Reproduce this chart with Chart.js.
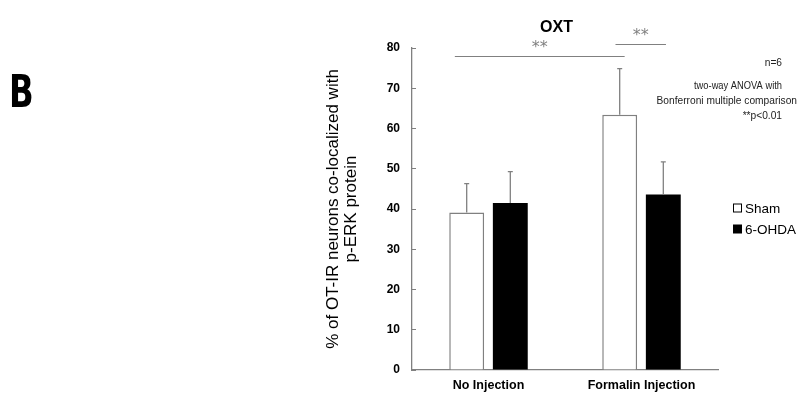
<!DOCTYPE html>
<html>
<head>
<meta charset="utf-8">
<script src="https://cdn.jsdelivr.net/npm/chart.js@4.4.1/dist/chart.umd.min.js"></script>
<style>
  html, body { margin: 0; padding: 0; background: #fff; }
  #contenedor { position: relative; width: 797px; height: 398px; }
</style>
</head>
<body>
<div id="contenedor"><canvas id="graficoOXT"></canvas></div>
<script>
const categorias = ["No Injection", "Formalin Injection"];
const nombresSeries = ["Sham", "6-OHDA"];
const mediaSham = [39.1, 63.4];
const errorSham = [7.2, 11.5];
const mediaOHDA = [41.5, 43.6];
const errorOHDA = [7.8, 8.1];
const ejeY = { min: 0, max: 80, paso: 10 };
// lineas de significancia en unidades de categoria y valor del eje Y
const significancia = [
  { desde: -0.22, hasta: 0.89, valor: 78, texto: "**" },
  { desde: 0.83, hasta: 1.16, valor: 81, texto: "**" }
];
const notas = ["n=6", "two-way ANOVA with", "Bonferroni multiple comparison", "**p<0.01"];
const titulo = "OXT";
const tituloEjeY = ["% of OT-IR neurons co-localized with", "p-ERK protein"];
const letraPanel = "B";

const GRIS = "#808080";
const FUENTE = "'Liberation Sans', Arial, sans-serif";

Chart.defaults.font.family = FUENTE;
Chart.defaults.color = "#000";

const barrasError = {
  id: "barrasError",
  afterDatasetsDraw(chart) {
    const ctx = chart.ctx;
    const y = chart.scales.y;
    const errores = [errorSham, errorOHDA];
    const medias = [mediaSham, mediaOHDA];
    ctx.save();
    ctx.strokeStyle = GRIS;
    ctx.lineWidth = 1.3;
    chart.data.datasets.forEach((ds, i) => {
      const meta = chart.getDatasetMeta(i);
      meta.data.forEach((barra, j) => {
        const arriba = y.getPixelForValue(medias[i][j] + errores[i][j]);
        ctx.beginPath();
        ctx.moveTo(barra.x, barra.y);
        ctx.lineTo(barra.x, arriba);
        ctx.moveTo(barra.x - 2.5, arriba);
        ctx.lineTo(barra.x + 2.5, arriba);
        ctx.stroke();
      });
    });
    ctx.restore();
  }
};

const extras = {
  id: "extras",
  afterDraw(chart) {
    const ctx = chart.ctx;
    const x = chart.scales.x;
    const y = chart.scales.y;
    const area = chart.chartArea;
    const x0 = x.getPixelForValue(0);
    const ancho = x.getPixelForValue(1) - x0;
    ctx.save();

    // significancia
    ctx.strokeStyle = GRIS;
    ctx.lineWidth = 1;
    ctx.fillStyle = GRIS;
    ctx.font = "16px 'DejaVu Sans'";
    ctx.textAlign = "center";
    ctx.textBaseline = "middle";
    significancia.forEach(s => {
      const xa = x0 + s.desde * ancho;
      const xb = x0 + s.hasta * ancho;
      const yy = Math.round(y.getPixelForValue(s.valor)) + 0.5;
      ctx.beginPath();
      ctx.moveTo(xa, yy);
      ctx.lineTo(xb, yy);
      ctx.stroke();
      ctx.fillText(s.texto, (xa + xb) / 2, yy - 9);
    });

    // titulo
    ctx.fillStyle = "#000";
    ctx.font = "bold 16px " + FUENTE;
    ctx.textAlign = "center";
    ctx.fillText(titulo, (area.left + area.right) / 2 - 8.5, 28);

    // notas
    ctx.font = "10.2px " + FUENTE;
    ctx.fillStyle = "#222";
    ctx.textAlign = "right";
    ctx.fillText(notas[0], 782, 63);
    ctx.fillText(notas[1], 782, 86, 88);
    ctx.fillText(notas[2], 797, 101);
    ctx.fillText(notas[3], 782, 116);

    // leyenda
    ctx.font = "13.5px " + FUENTE;
    ctx.textAlign = "left";
    chart.data.datasets.forEach((ds, i) => {
      const yc = 208 + i * 21;
      ctx.fillStyle = ds.backgroundColor;
      ctx.fillRect(733.5, yc - 4, 8, 8);
      ctx.strokeStyle = "#000";
      ctx.lineWidth = 1;
      ctx.strokeRect(733.5, yc - 4, 8, 8);
      ctx.fillStyle = "#000";
      ctx.fillText(ds.label, 745, yc + 1);
    });

    // letra del panel
    ctx.font = "bold 45px 'DejaVu Sans'";
    ctx.textBaseline = "alphabetic";
    ctx.translate(9, 107);
    ctx.scale(0.72, 1);
    ctx.fillText(letraPanel, 0, 0);

    ctx.restore();
  }
};

const grafico = new Chart(document.getElementById("graficoOXT"), {
  type: "bar",
  data: {
    labels: categorias,
    datasets: [
      {
        label: nombresSeries[0],
        data: mediaSham,
        backgroundColor: "#ffffff",
        borderColor: GRIS,
        borderWidth: 1.5
      },
      {
        label: nombresSeries[1],
        data: mediaOHDA,
        backgroundColor: "#000000",
        borderColor: "#000000",
        borderWidth: 0
      }
    ]
  },
  options: {
    responsive: true,
    maintainAspectRatio: false,
    animation: false,
    datasets: {
      bar: { categoryPercentage: 0.57, barPercentage: 0.8 }
    },
    layout: {
      padding: { left: 315, top: 48, right: 79, bottom: 0 }
    },
    plugins: {
      legend: { display: false },
      title: { display: false },
      tooltip: { enabled: false }
    },
    scales: {
      x: {
        afterFit(escala) { escala.height = 28; },
        grid: { display: true, drawOnChartArea: false, drawTicks: false },
        border: { display: true, color: GRIS, width: 1.3 },
        ticks: {
          padding: 8,
          color: "#000",
          font: { size: 12.5, weight: "bold" }
        }
      },
      y: {
        min: ejeY.min,
        max: ejeY.max,
        afterFit(escala) { escala.width = 97; },
        grid: { drawOnChartArea: false, tickLength: -4, color: GRIS },
        border: { display: true, color: GRIS, width: 1.3 },
        ticks: {
          stepSize: ejeY.paso,
          padding: 16,
          color: "#000",
          font: { size: 12, weight: "bold" }
        },
        title: {
          display: true,
          text: tituloEjeY,
          color: "#000",
          font: { size: 17, lineHeight: 1.03 },
          padding: { top: 10 }
        }
      }
    }
  },
  plugins: [barrasError, extras]
});
</script>
</body>
</html>
